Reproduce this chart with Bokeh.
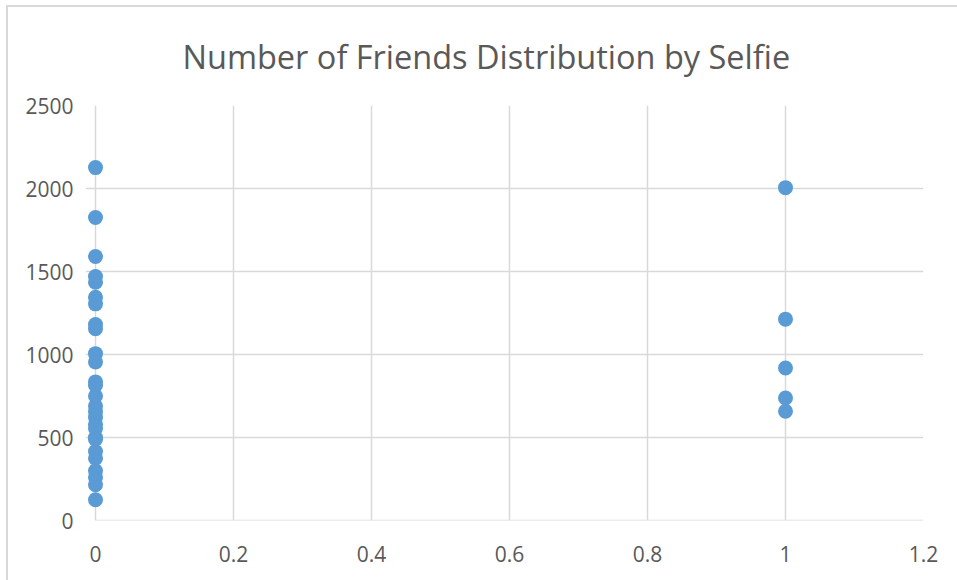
from bokeh.plotting import figure
from bokeh.models import Range1d, FixedTicker, ColumnDataSource
from bokeh.embed import file_html
from bokeh.resources import INLINE

# Selfie flag (0 = no, 1 = yes) and number of friends per person
selfie_no_friends = [2126, 1825, 1590, 1470, 1435, 1345, 1305, 1180, 1155,
                     1005, 955, 835, 815, 750, 690, 655, 620, 580, 555,
                     500, 490, 415, 375, 300, 260, 215, 125]
selfie_yes_friends = [2005, 1213, 919, 738, 658]

selfie = [0] * len(selfie_no_friends) + [1] * len(selfie_yes_friends)
friends = selfie_no_friends + selfie_yes_friends

x_ticks = [0, 0.2, 0.4, 0.6, 0.8, 1.0, 1.2]
y_ticks = [0, 500, 1000, 1500, 2000, 2500]

FONT = "Open Sans"
TEXT = "#595959"
GRID = "#d9d9d9"
BLUE = "#5b9bd5"

# a little room left of x=0 so the markers on that line are drawn whole
X_PAD = 0.0145

p = figure(
    output_backend="svg", toolbar_location=None,
    frame_width=838, frame_height=415,
    min_border_left=77, min_border_right=34,
    min_border_top=98, min_border_bottom=60,
    x_range=Range1d(-X_PAD, 1.2), y_range=Range1d(0, 2500),
    title="Number of Friends Distribution by Selfie",
    styles={"border-top": "2px solid #d9d9d9",
            "border-left": "2px solid #d9d9d9",
            "margin-left": "6px", "margin-top": "5px"},
)

p.title.text_font = FONT
p.title.text_font_size = "32.5px"
p.title.text_font_style = "normal"
p.title.text_color = TEXT
p.title.align = "left"
p.title.offset = 97
p.title.standoff = 50
p.title.vertical_align = "top"

p.outline_line_color = None
p.background_fill_color = "white"
p.border_fill_color = "white"

p.xaxis.ticker = FixedTicker(ticks=x_ticks)
p.yaxis.ticker = FixedTicker(ticks=y_ticks)
p.xaxis.major_label_overrides = {0: "0", 1.0: "1", 1: "1"}

for ax in (p.xaxis[0], p.yaxis[0]):
    ax.major_tick_line_color = None
    ax.minor_tick_line_color = None
    ax.major_tick_out = 0
    ax.major_tick_in = 0
    ax.minor_tick_out = 0
    ax.minor_tick_in = 0
    ax.axis_line_color = None
    ax.major_label_text_font = FONT
    ax.major_label_text_font_size = "21px"
    ax.major_label_text_color = TEXT

p.xaxis.major_label_standoff = 25
p.yaxis.major_label_standoff = 12

p.xgrid.grid_line_color = GRID
p.ygrid.grid_line_color = GRID
p.xgrid.grid_line_width = 1.5
p.ygrid.grid_line_width = 1.5

# horizontal axis line, running from x = 0 to the end of the scale
p.segment(x0=[x_ticks[0]], y0=[y_ticks[0]], x1=[x_ticks[-1]], y1=[y_ticks[0]],
          line_color=GRID, line_width=1.5)

src = ColumnDataSource(data=dict(selfie=selfie, friends=friends))
p.scatter("selfie", "friends", source=src, size=15,
          fill_color=BLUE, line_color=BLUE, line_width=0)

open("out.html", "w").write(file_html(p, INLINE))
